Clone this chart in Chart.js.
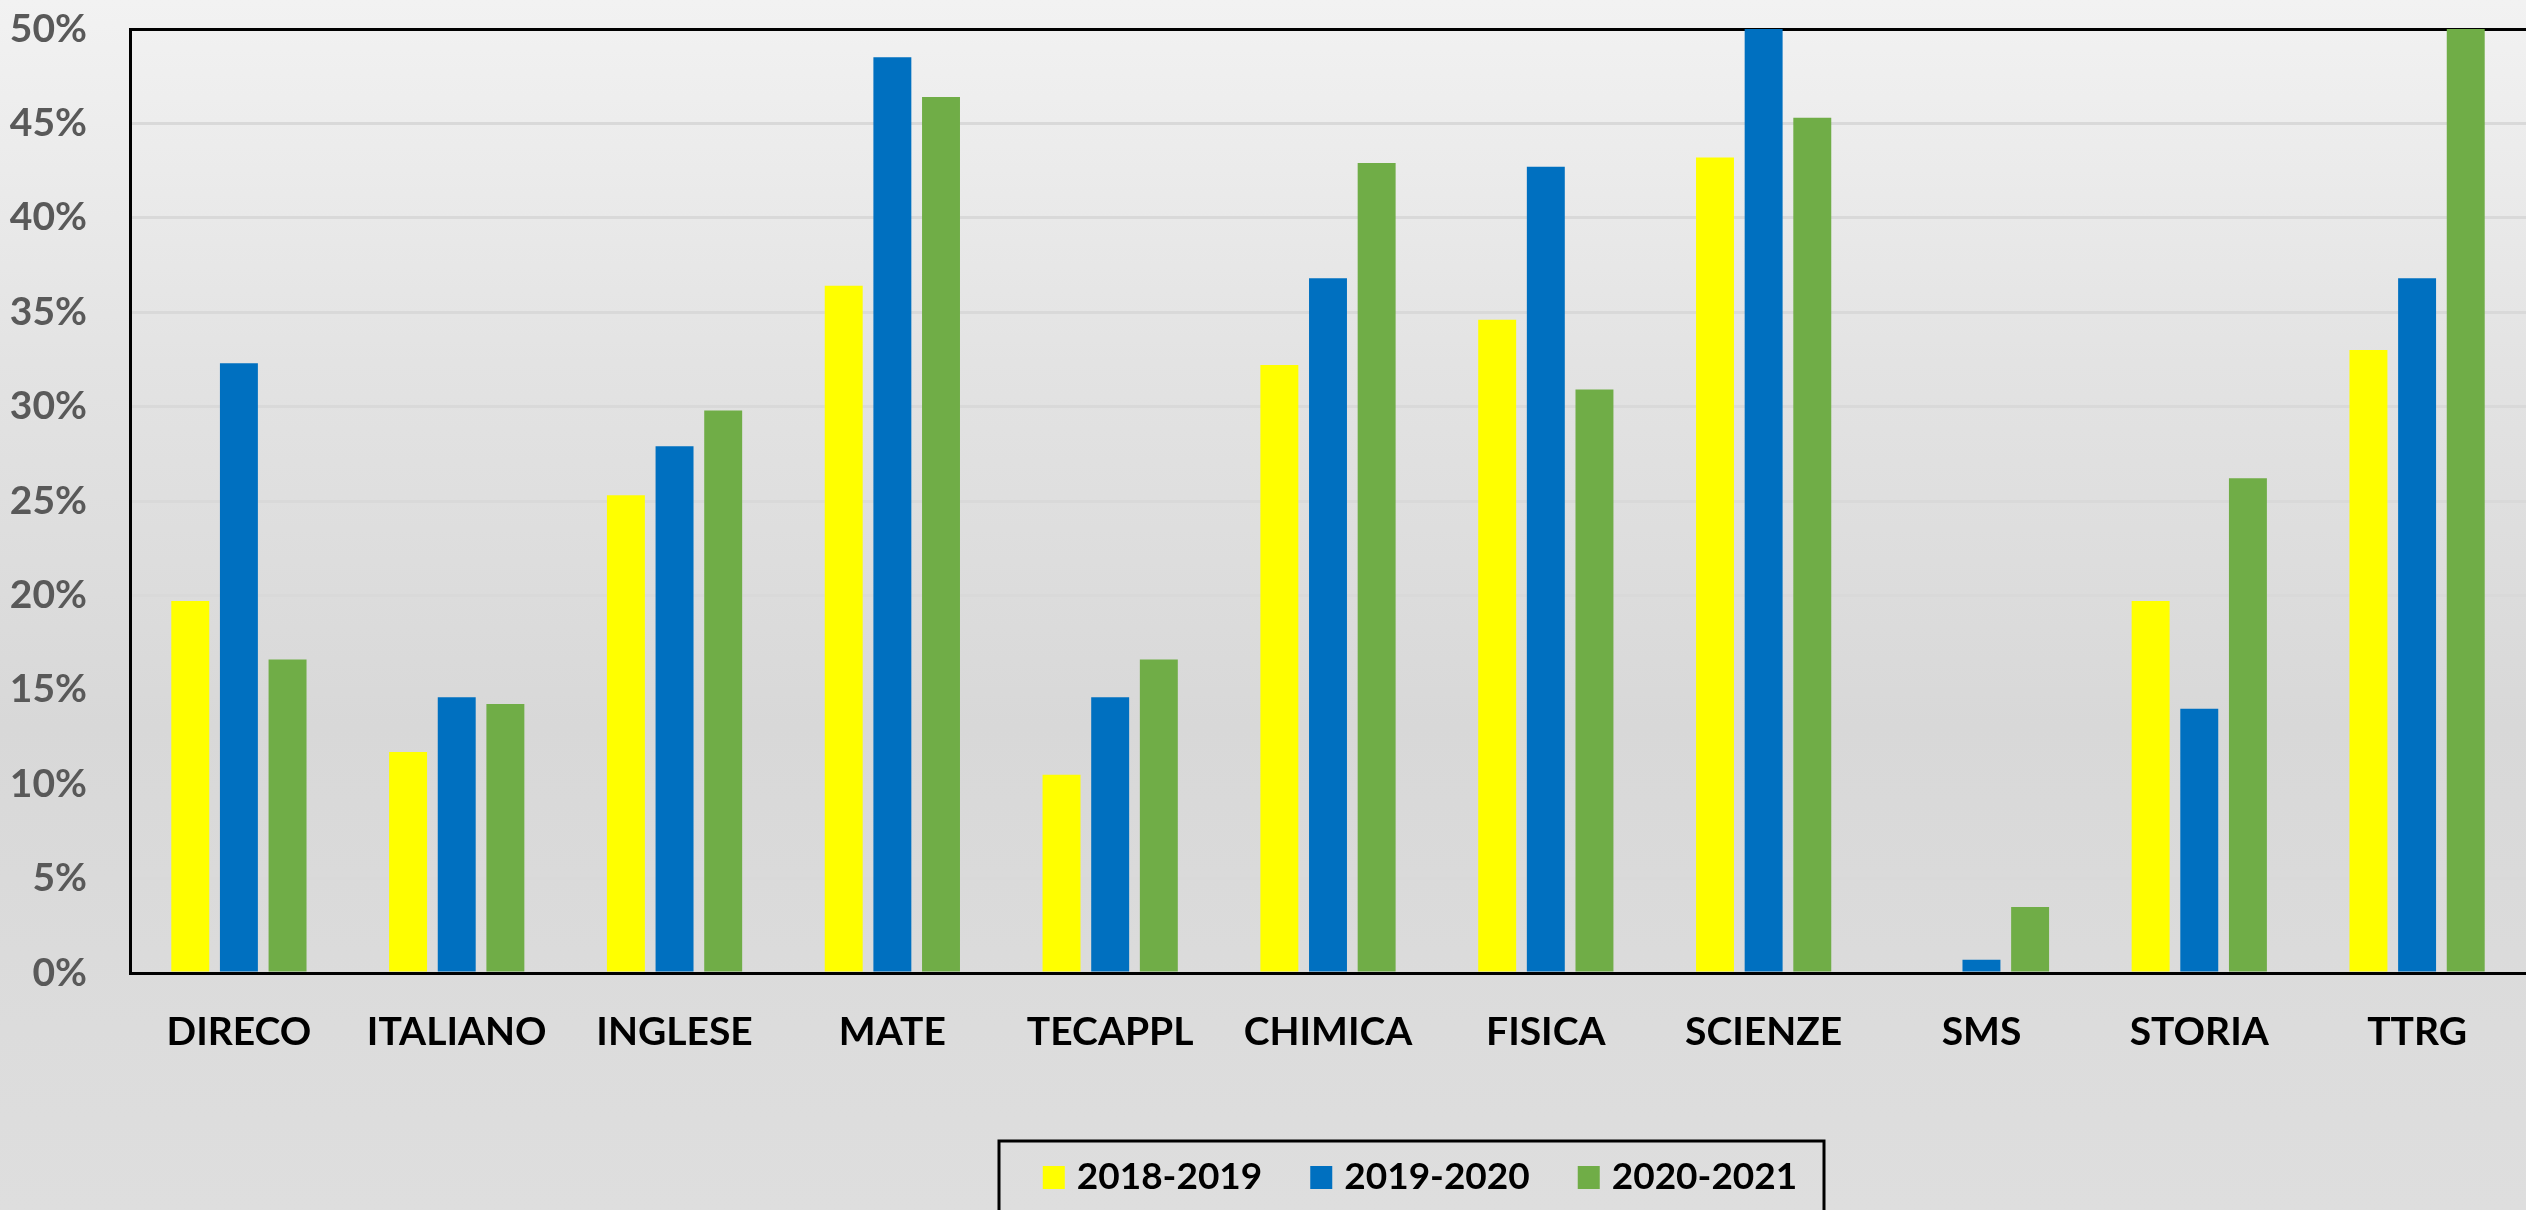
<!doctype html>
<html lang="it">

<head>
    <title>Percentuali per materia</title>
    <meta charset="utf-8" />
    <script src="https://cdn.jsdelivr.net/npm/chart.js@4.4.1/dist/chart.umd.min.js"></script>
    <style>
        html, body {
            margin: 0;
            padding: 0;
            overflow: hidden;
        }

        body {
            width: 2526px;
            height: 1210px;
            background: linear-gradient(to bottom, #f2f2f2 0%, #e3e3e3 30%, #d8d8d8 60%, #dcdcdc 85%, #dedede 100%);
        }

        #chartBar {
            display: block;
        }
    </style>
</head>

<body>
    <canvas id="chartBar" width="2526" height="1210"></canvas>

    <script>
        const subjects = ['DIRECO', 'ITALIANO', 'INGLESE', 'MATE', 'TECAPPL', 'CHIMICA', 'FISICA', 'SCIENZE', 'SMS', 'STORIA', 'TTRG'];
        const years = ['2018-2019', '2019-2020', '2020-2021'];
        const values1819 = [19.7, 11.7, 25.3, 36.4, 10.5, 32.2, 34.6, 43.2, 0, 19.7, 33.0];
        const values1920 = [32.3, 14.6, 27.9, 48.5, 14.6, 36.8, 42.7, 50.0, 0.7, 14.0, 36.8];
        const values2021 = [16.6, 14.25, 29.8, 46.4, 16.6, 42.9, 30.9, 45.3, 3.5, 26.2, 50.0];
        const yTicks = [0, 5, 10, 15, 20, 25, 30, 35, 40, 45, 50];
        const colors = ['#FFFF00', '#0070C0', '#70AD47'];

        Chart.defaults.font.family = 'Lato, "Open Sans", sans-serif';

        // legend drawn by hand: a framed row centred under the chart, like the Excel original
        const boxedLegend = {
            id: 'boxedLegend',
            afterDraw(chart, args, opts) {
                const ctx = chart.ctx;
                ctx.save();
                ctx.lineWidth = 3;
                ctx.strokeStyle = '#000';
                ctx.strokeRect(opts.left, opts.top, opts.width, 200);

                ctx.font = 'bold 37px Lato';
                ctx.textBaseline = 'alphabetic';
                const items = chart.data.datasets.map(ds => ({
                    label: ds.label,
                    color: ds.backgroundColor,
                    w: ctx.measureText(ds.label).width
                }));
                const total = items.reduce((s, it) => s + opts.boxW + opts.gap + it.w, 0) + opts.spacing * (items.length - 1);
                let x = opts.centerX - total / 2;
                items.forEach(it => {
                    ctx.fillStyle = it.color;
                    ctx.fillRect(x, opts.baseline - opts.boxH, opts.boxW, opts.boxH);
                    ctx.fillStyle = '#000';
                    ctx.fillText(it.label, x + opts.boxW + opts.gap, opts.baseline);
                    x += opts.boxW + opts.gap + it.w + opts.spacing;
                });
                ctx.restore();
            }
        };

        const ctx = document.getElementById('chartBar').getContext('2d');
        const chartBar = new Chart(ctx, {
            type: 'bar',
            data: {
                labels: subjects,
                datasets: [
                    { label: years[0], data: values1819, backgroundColor: colors[0] },
                    { label: years[1], data: values1920, backgroundColor: colors[1] },
                    { label: years[2], data: values2021, backgroundColor: colors[2] }
                ]
            },
            options: {
                responsive: false,
                animation: false,
                layout: {
                    padding: { top: 29, right: 0, bottom: 0, left: 0 }
                },
                datasets: {
                    bar: {
                        categoryPercentage: 0.67,
                        barPercentage: 0.78
                    }
                },
                plugins: {
                    legend: { display: false },
                    tooltip: { enabled: false },
                    boxedLegend: {
                        left: 999,
                        top: 1141,
                        width: 825,
                        centerX: 1420,
                        baseline: 1189,
                        boxW: 22,
                        boxH: 23,
                        gap: 12,
                        spacing: 48
                    }
                },
                scales: {
                    x: {
                        grid: { display: false, drawTicks: false },
                        border: { color: '#000', width: 3 },
                        ticks: {
                            color: '#000',
                            padding: 36,
                            maxRotation: 0,
                            font: { size: 39, weight: 'bold' }
                        },
                        afterFit: (scale) => { scale.height = 237; }
                    },
                    y: {
                        min: 0,
                        max: 50,
                        afterBuildTicks: (scale) => { scale.ticks = yTicks.map(v => ({ value: v })); },
                        grid: {
                            drawTicks: false,
                            lineWidth: 3,
                            color: (c) => (c.tick && (c.tick.value === 0 || c.tick.value === 50)) ? '#000' : '#d9d9d9'
                        },
                        border: { color: '#000', width: 3 },
                        ticks: {
                            color: '#595959',
                            padding: 43,
                            font: { size: 39, weight: 'bold' },
                            callback: (v) => v + '%'
                        },
                        // fixed axis width; drop the tick padding chart.js adds above the top label
                        afterFit: (scale) => {
                            scale.width = 130;
                            scale.paddingTop = 0;
                            scale.paddingBottom = 0;
                        }
                    }
                }
            },
            plugins: [boxedLegend]
        });
    </script>
</body>

</html>
